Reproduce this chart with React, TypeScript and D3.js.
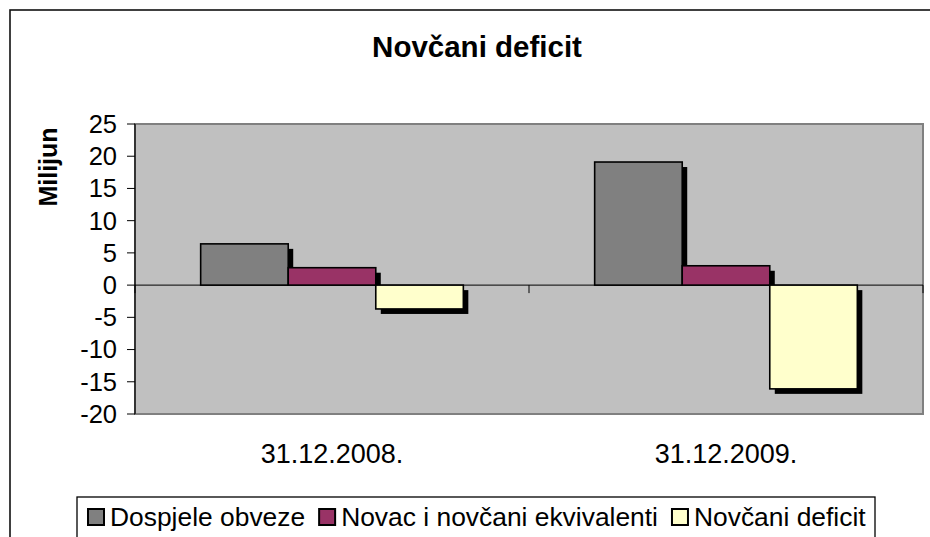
import React, { useEffect, useRef } from 'react';
import * as d3 from 'd3';

// chart data
const categories = ['31.12.2008.', '31.12.2009.'];
const seriesNames = ['Dospjele obveze', 'Novac i novčani ekvivalenti', 'Novčani deficit'];
const dospjeleObveze = [6.4, 19.1];
const novacEkvivalenti = [2.7, 3.0];
const novcaniDeficit = [-3.7, -16.1];
const yTicks = [25, 20, 15, 10, 5, 0, -5, -10, -15, -20];
const seriesColors = ['#808080', '#993366', '#FFFFCC'];

const App = () => {
  const svgRef = useRef<SVGSVGElement>(null);

  useEffect(() => {
    const width = 930;
    const height = 537;
    const font = "'Liberation Sans', Arial, sans-serif";
    const plot = { left: 135, right: 923, top: 124, bottom: 414 };

    const root = d3.select(svgRef.current);
    root.selectAll('*').remove();
    root.attr('width', width).attr('height', height);

    const svg = root.append('g');

    // chart background + outer border
    svg.append('rect')
      .attr('x', 0).attr('y', 0).attr('width', width).attr('height', height)
      .attr('fill', '#fff');
    svg.append('rect')
      .attr('x', 10).attr('y', 10).attr('width', 940).attr('height', 560)
      .attr('fill', 'none').attr('stroke', '#111').attr('stroke-width', 1.6);

    // title
    svg.append('text')
      .attr('x', 477).attr('y', 57)
      .attr('text-anchor', 'middle')
      .attr('font-family', font).attr('font-size', 29.5).attr('font-weight', 'bold')
      .attr('fill', '#000')
      .text('Novčani deficit');

    // scales
    const y = d3.scaleLinear().domain([-20, 25]).range([plot.bottom, plot.top]);
    const x0 = d3.scaleBand<string>()
      .domain(categories)
      .range([plot.left, plot.right])
      .paddingInner(1 / 3)
      .paddingOuter(1 / 6);
    const x1 = d3.scaleBand<string>()
      .domain(seriesNames)
      .range([0, x0.bandwidth()]);

    // plot area
    svg.append('rect')
      .attr('x', plot.left).attr('y', plot.top)
      .attr('width', plot.right - plot.left).attr('height', plot.bottom - plot.top)
      .attr('fill', '#C0C0C0')
      .attr('stroke', '#808080').attr('stroke-width', 2);

    const allSeries = [dospjeleObveze, novacEkvivalenti, novcaniDeficit];
    const bars: { x: number; v: number; color: string }[] = [];
    categories.forEach((cat, ci) => {
      seriesNames.forEach((name, si) => {
        bars.push({
          x: (x0(cat) as number) + (x1(name) as number),
          v: allSeries[si][ci],
          color: seriesColors[si],
        });
      });
    });
    const bw = x1.bandwidth();
    const zero = y(0);
    const off = 5;

    // shadows first
    svg.append('g').selectAll('rect')
      .data(bars)
      .enter()
      .append('rect')
      .attr('x', d => d.x + off)
      .attr('y', d => (d.v >= 0 ? y(d.v) + off : zero + off))
      .attr('width', bw)
      .attr('height', d => (d.v >= 0 ? Math.max(0, zero - y(d.v) - off) : y(d.v) - zero))
      .attr('fill', '#000');

    // zero line
    svg.append('line')
      .attr('x1', plot.left).attr('x2', plot.right)
      .attr('y1', zero).attr('y2', zero)
      .attr('stroke', '#000').attr('stroke-width', 1);

    // category ticks on zero line
    const catEdges = [plot.left, ...categories.map(c => (x0(c) as number) + x0.bandwidth() + (x0.step() - x0.bandwidth()) / 2)];
    svg.append('g').selectAll('line')
      .data(catEdges)
      .enter()
      .append('line')
      .attr('x1', d => d).attr('x2', d => d)
      .attr('y1', zero).attr('y2', zero + 8)
      .attr('stroke', '#000').attr('stroke-width', 1);

    // bars
    svg.append('g').selectAll('rect')
      .data(bars)
      .enter()
      .append('rect')
      .attr('x', d => d.x)
      .attr('y', d => Math.min(y(d.v), zero))
      .attr('width', bw)
      .attr('height', d => Math.abs(y(d.v) - zero))
      .attr('fill', d => d.color)
      .attr('stroke', '#000').attr('stroke-width', 1.6);

    // y axis
    svg.append('line')
      .attr('x1', plot.left).attr('x2', plot.left)
      .attr('y1', plot.top).attr('y2', plot.bottom)
      .attr('stroke', '#000').attr('stroke-width', 1.2);
    const yAxis = svg.append('g');
    yTicks.forEach(t => {
      yAxis.append('line')
        .attr('x1', plot.left - 8).attr('x2', plot.left)
        .attr('y1', y(t)).attr('y2', y(t))
        .attr('stroke', '#000').attr('stroke-width', 1);
      yAxis.append('text')
        .attr('x', 117).attr('y', y(t))
        .attr('dy', '0.35em')
        .attr('text-anchor', 'end')
        .attr('font-family', font).attr('font-size', 25.5)
        .attr('fill', '#000')
        .text(t);
    });

    // y axis title
    svg.append('text')
      .attr('transform', 'translate(57,167) rotate(-90)')
      .attr('text-anchor', 'middle')
      .attr('font-family', font).attr('font-size', 25).attr('font-weight', 'bold')
      .attr('fill', '#000')
      .text('Milijun');

    // category labels
    svg.append('g').selectAll('text')
      .data(categories)
      .enter()
      .append('text')
      .attr('x', d => (x0(d) as number) + x0.bandwidth() / 2)
      .attr('y', 463)
      .attr('text-anchor', 'middle')
      .attr('font-family', font).attr('font-size', 27)
      .attr('fill', '#000')
      .text(d => d);

    // legend
    svg.append('rect')
      .attr('x', 77).attr('y', 497).attr('width', 798).attr('height', 60)
      .attr('fill', '#fff').attr('stroke', '#000').attr('stroke-width', 1.3);
    let lx = 88;
    seriesNames.forEach((name, i) => {
      svg.append('rect')
        .attr('x', lx).attr('y', 509).attr('width', 16).attr('height', 16)
        .attr('fill', seriesColors[i]).attr('stroke', '#000').attr('stroke-width', 2);
      const t = svg.append('text')
        .attr('x', lx + 22).attr('y', 526)
        .attr('font-family', font).attr('font-size', 26.4)
        .attr('fill', '#000')
        .text(name);
      const w = (t.node() as SVGTextElement).getComputedTextLength();
      lx = lx + 22 + w + 14;
    });
  }, []);

  return (
    <svg ref={svgRef} style={{ position: 'absolute', left: 0, top: 0, display: 'block' }} />
  );
};

export default App;
